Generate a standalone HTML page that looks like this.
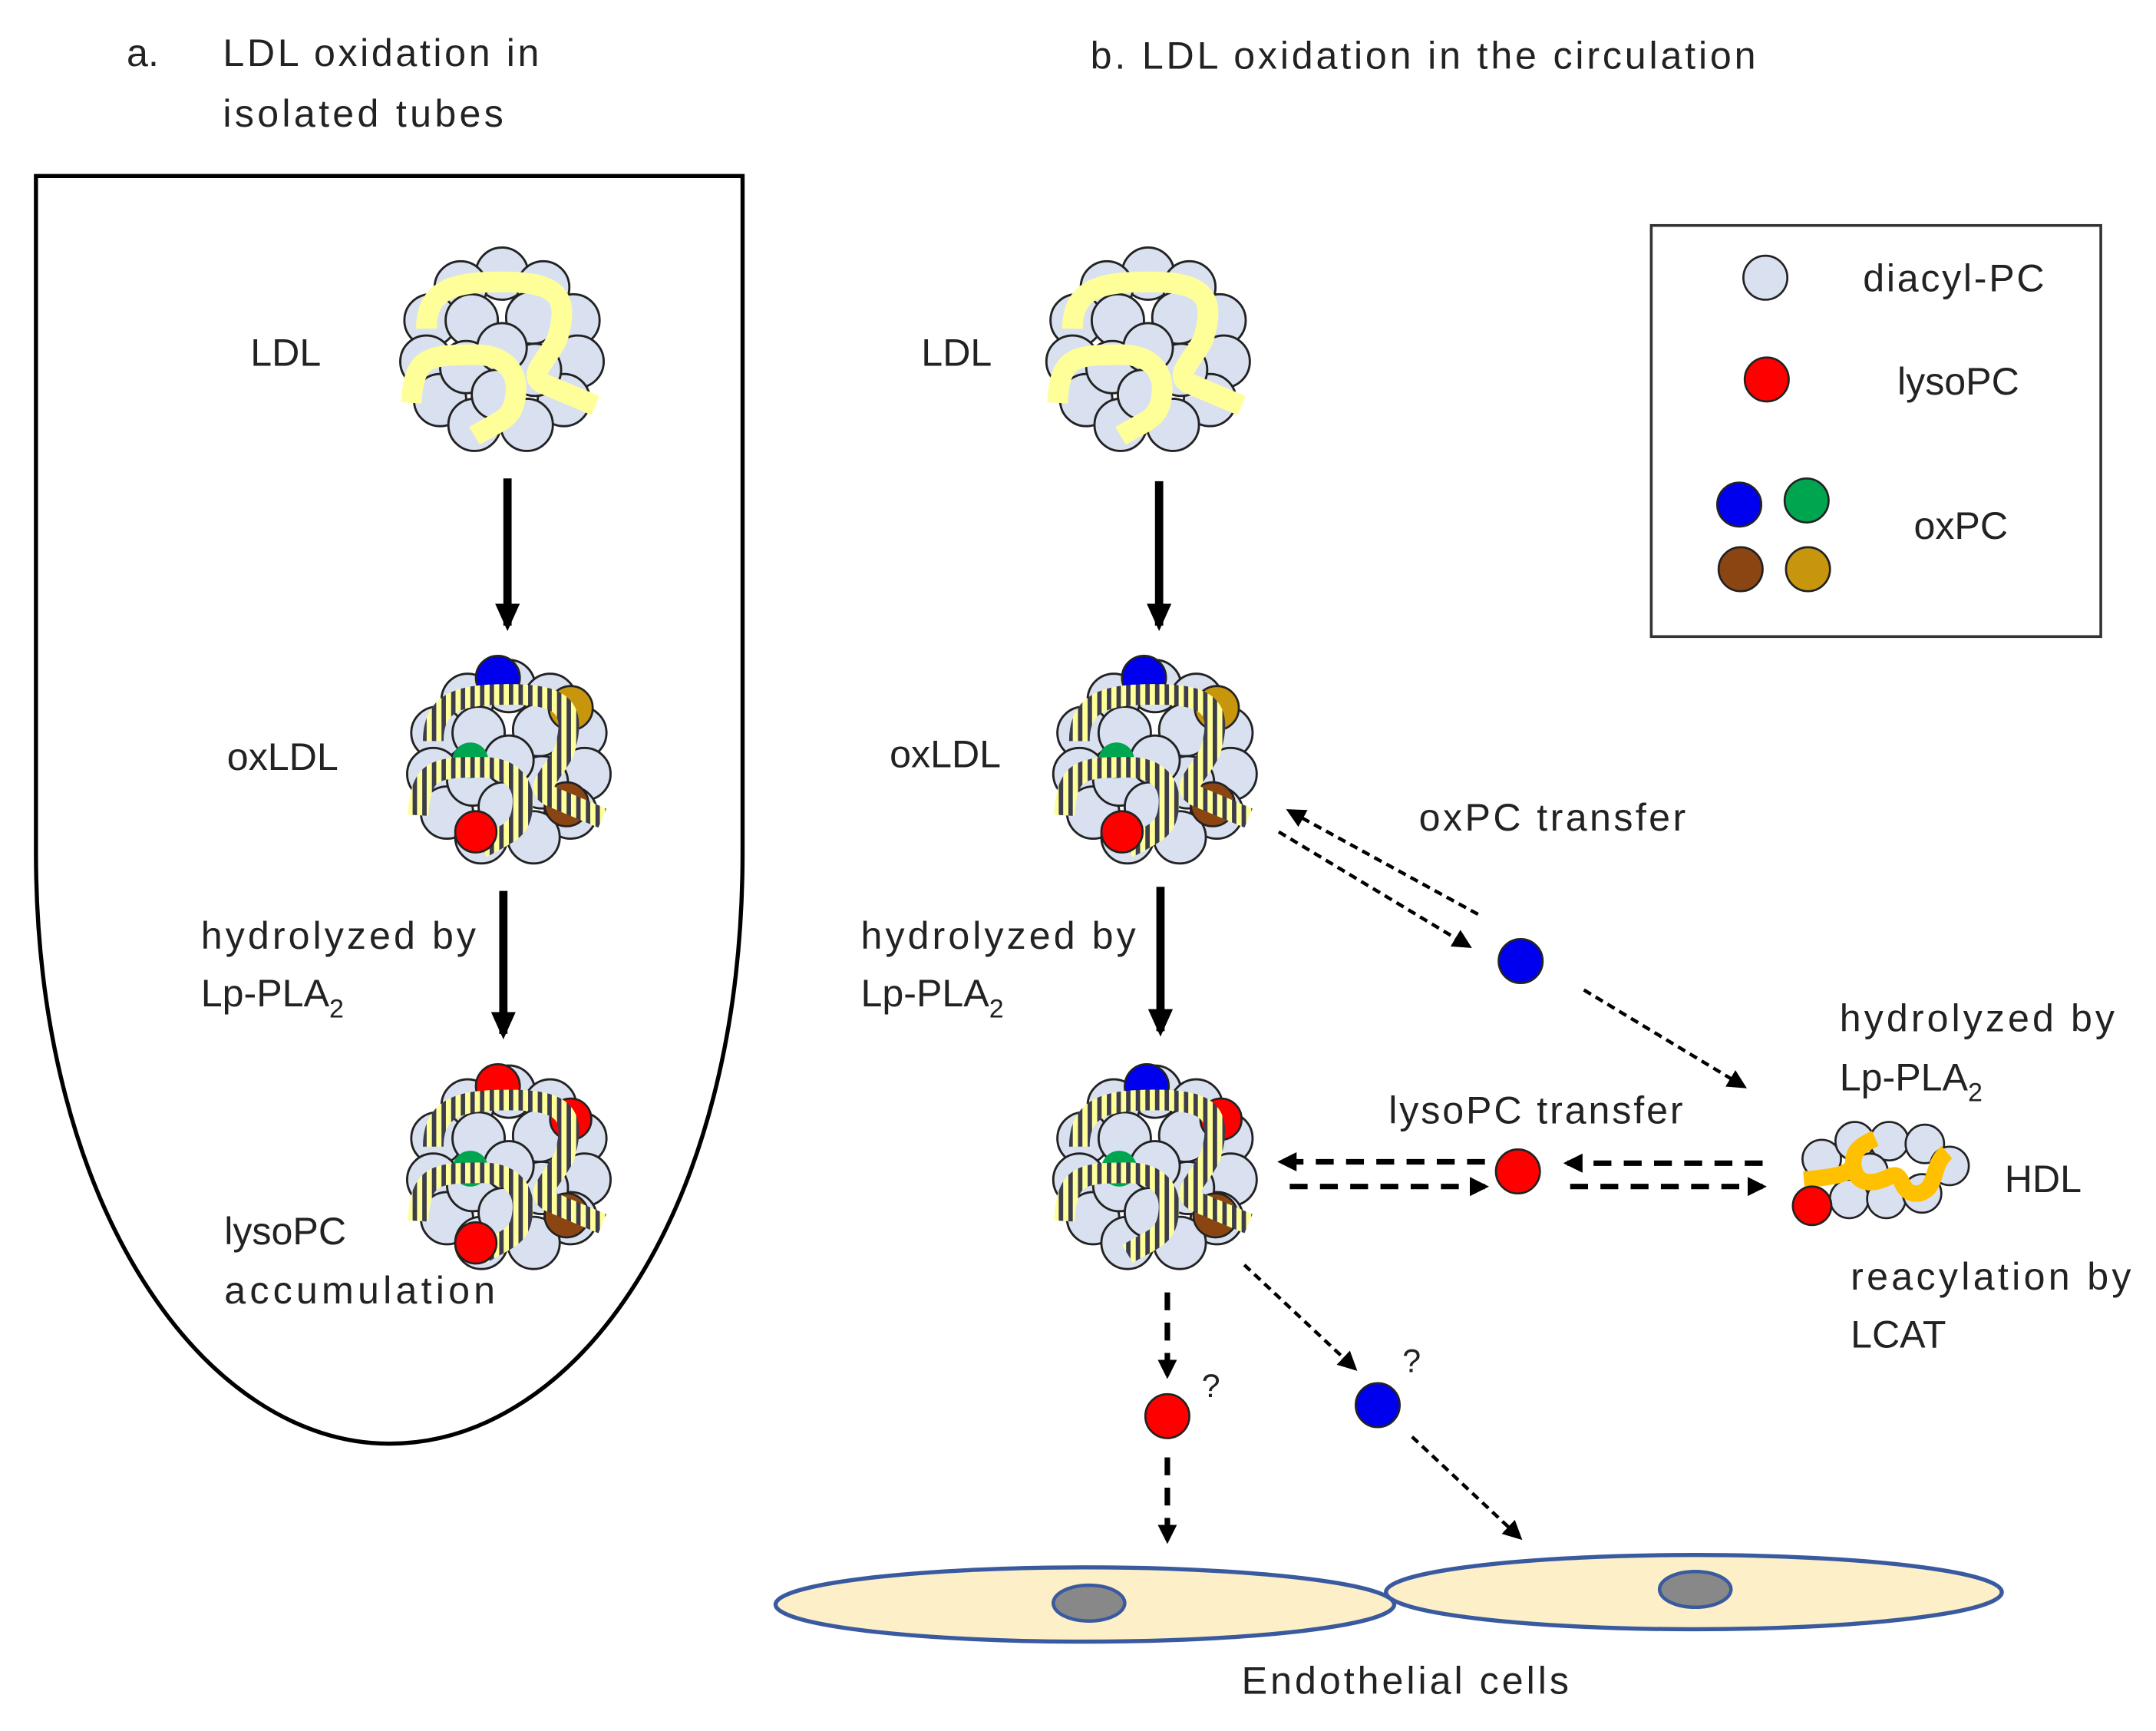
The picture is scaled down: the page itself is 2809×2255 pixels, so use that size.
<!DOCTYPE html>
<html><head><meta charset="utf-8"><style>html,body{margin:0;padding:0;background:#fff}svg{display:block}</style></head>
<body>
<svg xmlns="http://www.w3.org/2000/svg" xmlns:xlink="http://www.w3.org/1999/xlink" width="2809" height="2255" viewBox="0 0 1568 1259">
<defs>
<pattern id="st" width="7" height="7" patternUnits="userSpaceOnUse">
<rect width="7" height="7" fill="#ffff99"/><rect width="3.2" height="7" fill="#3c3c4c"/>
</pattern>
<g id="balls" stroke="#222" stroke-width="1.6" fill="#d9e1f0">
<circle cx="0" cy="-56" r="19"/><circle cx="-30" cy="-46" r="19"/><circle cx="30" cy="-46" r="19"/>
<circle cx="-52" cy="-22" r="19"/><circle cx="52" cy="-22" r="19"/>
<circle cx="-55" cy="8" r="19"/><circle cx="55" cy="8" r="19"/>
<circle cx="-45" cy="36" r="19"/><circle cx="45" cy="36" r="19"/>
<circle cx="-20" cy="54" r="19"/><circle cx="18" cy="54" r="19"/>
<circle cx="-22" cy="-22" r="19"/><circle cx="22" cy="-24" r="19"/>
<circle cx="-26" cy="12" r="19"/><circle cx="24" cy="14" r="19"/>
<circle cx="0" cy="-2" r="18"/><circle cx="-4" cy="32" r="18"/>
</g>
<path id="rib" d="M-55,-16 C-55,-45 -35,-50 0,-50 C40,-50 50,-40 40,-8 C32,8 18,18 30,24 L68,40 M-66,38 C-64,5 -55,3 -20,3 C2,3 12,15 10,32 C8,50 0,50 -20,62" fill="none" stroke-width="15"/>
<g id="ldl"><use xlink:href="#balls"/><use xlink:href="#rib" stroke="#ffff99"/></g>
<marker id="ah2" markerWidth="14" markerHeight="14" refX="11" refY="7" orient="auto" markerUnits="userSpaceOnUse"><path d="M0,0 L14,7 L0,14 Z" fill="#000"/></marker>
<marker id="ahb" markerWidth="20" markerHeight="18" refX="16" refY="9" orient="auto" markerUnits="userSpaceOnUse"><path d="M0,0 L20,9 L0,18 Z" fill="#000"/></marker>
</defs>

<g font-family="'Liberation Sans', sans-serif" font-size="28" fill="#222">
<text x="92" y="48">a.</text>
<text x="162" y="48" textLength="230">LDL oxidation in</text>
<text x="162" y="92" textLength="204">isolated tubes</text>
<text x="793" y="50" textLength="484">b. LDL oxidation in the circulation</text>
</g>

<path d="M26,128 L540,128 L540,620 C540,880 420,1050 283,1050 C150,1050 26,880 26,620 Z" fill="none" stroke="#000" stroke-width="3"/>

<use xlink:href="#ldl" transform="translate(365,255)"/>
<g transform="translate(370,555)">
<use xlink:href="#balls"/>
<circle cx="-8" cy="-62" r="16" fill="#0000ee" stroke="#222" stroke-width="1.5"/>
<circle cx="45" cy="-40" r="16" fill="#c8960c" stroke="#222" stroke-width="1.5"/>
<circle cx="-28" cy="-2" r="13" fill="#00a550"/>
<circle cx="42" cy="30" r="16" fill="#8b4513" stroke="#222" stroke-width="1.5"/>
<use xlink:href="#rib" stroke="url(#st)"/>
<circle cx="-24" cy="50" r="15" fill="#ff0000" stroke="#222" stroke-width="1.5"/>
</g>
<g transform="translate(370,850)">
<use xlink:href="#balls"/>
<circle cx="-8" cy="-60" r="16" fill="#ff0000" stroke="#222" stroke-width="1.5"/>
<circle cx="45" cy="-36" r="15" fill="#ff0000" stroke="#222" stroke-width="1.5"/>
<circle cx="-28" cy="0" r="13" fill="#00a550"/>
<circle cx="42" cy="34" r="16" fill="#8b4513" stroke="#222" stroke-width="1.5"/>
<use xlink:href="#rib" stroke="url(#st)"/>
<circle cx="-24" cy="54" r="15" fill="#ff0000" stroke="#222" stroke-width="1.5"/>
</g>
<line x1="369" y1="348" x2="369" y2="455" stroke="#000" stroke-width="6" marker-end="url(#ahb)"/>
<line x1="366" y1="648" x2="366" y2="752" stroke="#000" stroke-width="6" marker-end="url(#ahb)"/>
<g font-family="'Liberation Sans', sans-serif" font-size="28" fill="#222">
<text x="182" y="266">LDL</text>
<text x="165" y="560">oxLDL</text>
<text x="146" y="690" textLength="200">hydrolyzed by</text>
<text x="146" y="732">Lp-PLA<tspan font-size="19" dy="8">2</tspan></text>
<text x="163" y="905">lysoPC</text>
<text x="163" y="948" textLength="197">accumulation</text>
</g>

<use xlink:href="#ldl" transform="translate(835,255)"/>
<g transform="translate(840,555)">
<use xlink:href="#balls"/>
<circle cx="-8" cy="-62" r="16" fill="#0000ee" stroke="#222" stroke-width="1.5"/>
<circle cx="45" cy="-40" r="16" fill="#c8960c" stroke="#222" stroke-width="1.5"/>
<circle cx="-28" cy="-2" r="13" fill="#00a550"/>
<circle cx="42" cy="30" r="16" fill="#8b4513" stroke="#222" stroke-width="1.5"/>
<use xlink:href="#rib" stroke="url(#st)"/>
<circle cx="-24" cy="50" r="15" fill="#ff0000" stroke="#222" stroke-width="1.5"/>
</g>
<g transform="translate(840,850)">
<use xlink:href="#balls"/>
<circle cx="-6" cy="-60" r="16" fill="#0000ee" stroke="#222" stroke-width="1.5"/>
<circle cx="48" cy="-36" r="15" fill="#ff0000" stroke="#222" stroke-width="1.5"/>
<circle cx="-26" cy="0" r="13" fill="#00a550"/>
<circle cx="44" cy="34" r="16" fill="#8b4513" stroke="#222" stroke-width="1.5"/>
<use xlink:href="#rib" stroke="url(#st)"/>
</g>
<line x1="843" y1="350" x2="843" y2="455" stroke="#000" stroke-width="6" marker-end="url(#ahb)"/>
<line x1="844" y1="645" x2="844" y2="750" stroke="#000" stroke-width="6" marker-end="url(#ahb)"/>
<g font-family="'Liberation Sans', sans-serif" font-size="28" fill="#222">
<text x="670" y="266">LDL</text>
<text x="647" y="558">oxLDL</text>
<text x="626" y="690" textLength="200">hydrolyzed by</text>
<text x="626" y="732">Lp-PLA<tspan font-size="19" dy="8">2</tspan></text>
</g>

<rect x="1201" y="164" width="327" height="299" fill="none" stroke="#333" stroke-width="2"/>
<g stroke="#222" stroke-width="1.5">
<circle cx="1284" cy="202" r="16" fill="#d9e1f0"/>
<circle cx="1285" cy="276" r="16" fill="#ff0000"/>
<circle cx="1265" cy="367" r="16" fill="#0000ee"/>
<circle cx="1314" cy="364" r="16" fill="#00a550"/>
<circle cx="1266" cy="414" r="16" fill="#8b4513"/>
<circle cx="1315" cy="414" r="16" fill="#c8960c"/>
</g>
<g font-family="'Liberation Sans', sans-serif" font-size="28" fill="#222">
<text x="1355" y="212" textLength="132">diacyl-PC</text>
<text x="1380" y="287">lysoPC</text>
<text x="1392" y="392">oxPC</text>
<text x="1032" y="604" textLength="194">oxPC transfer</text>
<text x="1338" y="750" textLength="200">hydrolyzed by</text>
<text x="1338" y="793">Lp-PLA<tspan font-size="19" dy="8">2</tspan></text>
<text x="1458" y="867">HDL</text>
<text x="1346" y="938" textLength="204">reacylation by</text>
<text x="1346" y="980">LCAT</text>
<text x="1010" y="817" textLength="214">lysoPC transfer</text>
<text x="874" y="1016" font-size="24">?</text>
<text x="1020" y="998" font-size="24">?</text>
<text x="903" y="1232" textLength="238">Endothelial cells</text>
</g>

<g stroke="#000" stroke-width="2.5" stroke-dasharray="6,4" fill="none">
<line x1="1075" y1="665" x2="938" y2="590" marker-end="url(#ah2)"/>
<line x1="930" y1="605" x2="1068" y2="688" marker-end="url(#ah2)"/>
<line x1="1152" y1="720" x2="1268" y2="790" marker-end="url(#ah2)"/>
<line x1="905" y1="920" x2="985" y2="995" marker-end="url(#ah2)"/>
<line x1="1027" y1="1045" x2="1105" y2="1118" marker-end="url(#ah2)"/>
</g>
<g stroke="#000" stroke-width="4" stroke-dasharray="13,9" fill="none">
<line x1="1080" y1="845" x2="932" y2="845" marker-end="url(#ah2)"/>
<line x1="938" y1="863" x2="1080" y2="863" marker-end="url(#ah2)"/>
<line x1="1282" y1="846" x2="1140" y2="846" marker-end="url(#ah2)"/>
<line x1="1142" y1="863" x2="1282" y2="863" marker-end="url(#ah2)"/>
<line x1="849" y1="940" x2="849" y2="1000" marker-end="url(#ah2)"/>
<line x1="849" y1="1060" x2="849" y2="1120" marker-end="url(#ah2)"/>
</g>
<g stroke="#222" stroke-width="1.5">
<circle cx="1106" cy="699" r="16" fill="#0000ee"/>
<circle cx="1104" cy="852" r="16" fill="#ff0000"/>
<circle cx="849" cy="1030" r="16" fill="#ff0000"/>
<circle cx="1002" cy="1022" r="16" fill="#0000ee"/>
</g>

<g stroke="#222" stroke-width="1.5" fill="#d9e1f0">
<circle cx="1325" cy="843" r="14"/><circle cx="1349" cy="830" r="14"/><circle cx="1374" cy="830" r="14"/>
<circle cx="1400" cy="832" r="14"/><circle cx="1418" cy="848" r="14"/>
<circle cx="1345" cy="872" r="14"/><circle cx="1372" cy="872" r="14"/><circle cx="1398" cy="868" r="14"/>
<circle cx="1360" cy="852" r="13"/>
</g>
<path d="M1312,858 C1335,856 1348,854 1348,845 C1348,836 1355,832 1364,828 M1348,848 C1350,862 1362,862 1374,856 C1386,850 1380,870 1396,868 C1410,864 1404,848 1416,838" fill="none" stroke="#ffc000" stroke-width="12"/>
<circle cx="1318" cy="877" r="14" fill="#ff0000" stroke="#222" stroke-width="1.5"/>

<ellipse cx="789" cy="1167" rx="225" ry="27" fill="#fdf0c8" stroke="#3a5aa0" stroke-width="3"/>
<ellipse cx="1232" cy="1158" rx="224" ry="27" fill="#fdf0c8" stroke="#3a5aa0" stroke-width="3"/>
<ellipse cx="792" cy="1166" rx="26" ry="13" fill="#888" stroke="#3a5aa0" stroke-width="2.5"/>
<ellipse cx="1233" cy="1156" rx="26" ry="13" fill="#888" stroke="#3a5aa0" stroke-width="2.5"/>
</svg>
</body></html>
